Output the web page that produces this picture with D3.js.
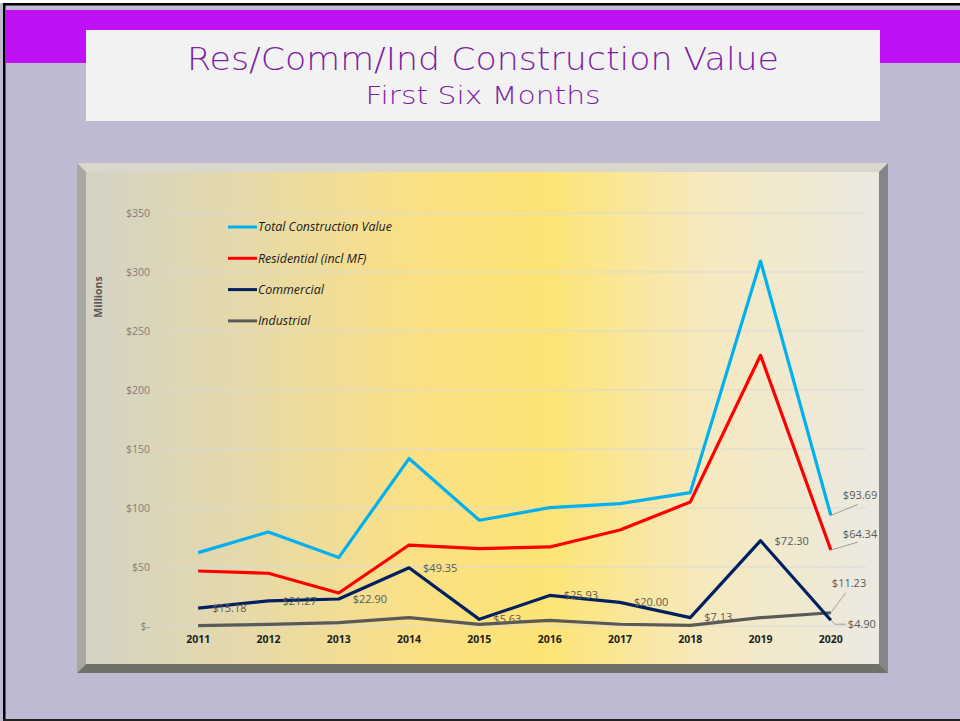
<!DOCTYPE html>
<html>
<head>
<meta charset="utf-8">
<script src="https://cdn.jsdelivr.net/npm/d3@7/dist/d3.min.js"></script>
<style>
  html, body { margin: 0; padding: 0; background: #fff; }
  svg { display: block; }
</style>
</head>
<body>
<div id="chart"></div>
<script>
// chart values
const years = ["2011", "2012", "2013", "2014", "2015", "2016", "2017", "2018", "2019", "2020"];
const totalValue = [62.2, 79.7, 58.0, 141.9, 89.6, 100.3, 103.7, 113.0, 309.3, 93.69];
const residential = [46.6, 44.7, 28.0, 68.6, 65.6, 67.0, 81.4, 105.0, 229.4, 64.34];
const commercial = [15.18, 21.27, 22.90, 49.35, 5.63, 25.93, 20.00, 7.13, 72.30, 4.90];
const industrial = [0.4, 1.4, 2.8, 7.1, 1.4, 4.8, 1.5, 0.6, 7.1, 11.23];
const yTicks = [0, 50, 100, 150, 200, 250, 300, 350];

const seriesNames = ["Total Construction Value", "Residential (incl MF)", "Commercial", "Industrial"];
const seriesColors = ["#00b0f0", "#ff0000", "#002060", "#595959"];

const W = 960, H = 721;
const svg = d3.select("#chart").append("svg")
    .attr("width", W)
    .attr("height", H);

// slide background
svg.append("rect").attr("width", W).attr("height", H).attr("fill", "#bebad2");
svg.append("rect").attr("x", 0).attr("y", 0).attr("width", W).attr("height", 3).attr("fill", "#fff");
svg.append("rect").attr("x", 3).attr("y", 3).attr("width", W - 3).attr("height", 2.5).attr("fill", "#000");
svg.append("rect").attr("x", 3).attr("y", 3).attr("width", 2.5).attr("height", H - 3).attr("fill", "#000");
svg.append("rect").attr("x", 3).attr("y", H - 2).attr("width", W - 3).attr("height", 2).attr("fill", "#222");
svg.append("rect").attr("x", 5.5).attr("y", 10).attr("width", W - 5.5).attr("height", 53).attr("fill", "#c010f6");

// title box
svg.append("rect").attr("x", 86).attr("y", 30).attr("width", 794).attr("height", 91).attr("fill", "#f2f2f2");
svg.append("text")
    .attr("x", 483).attr("y", 70)
    .attr("text-anchor", "middle")
    .attr("textLength", 592)
    .attr("lengthAdjust", "spacingAndGlyphs")
    .style("font-family", "'DejaVu Sans', sans-serif")
    .style("font-size", "32px")
    .style("font-weight", "200")
    .attr("fill", "#7d1fa3")
    .text("Res/Comm/Ind Construction Value");
svg.append("text")
    .attr("x", 483).attr("y", 104)
    .attr("text-anchor", "middle")
    .attr("textLength", 235)
    .attr("lengthAdjust", "spacingAndGlyphs")
    .style("font-family", "'DejaVu Sans', sans-serif")
    .style("font-size", "25px")
    .style("font-weight", "200")
    .attr("fill", "#7d1fa3")
    .text("First Six Months");

// bevelled chart panel
const px0 = 77, py0 = 163, px1 = 888, py1 = 673, b = 9;
const defs = svg.append("defs");
const grad = defs.append("linearGradient").attr("id", "face").attr("x1", "0").attr("x2", "1").attr("y1", "0").attr("y2", "0");
[["0%", "#d5d2c6"], ["18%", "#e3d9ad"], ["42%", "#fbe084"], ["58%", "#fde474"], ["78%", "#f6e9be"], ["100%", "#ebe9e1"]]
    .forEach(s => grad.append("stop").attr("offset", s[0]).attr("stop-color", s[1]));

svg.append("polygon").attr("fill", "#dad8cd")
    .attr("points", [[px0, py0], [px1, py0], [px1 - b, py0 + b], [px0 + b, py0 + b]].join(" "));
svg.append("polygon").attr("fill", "#a8a7a0")
    .attr("points", [[px0, py0], [px0 + b, py0 + b], [px0 + b, py1 - b], [px0, py1]].join(" "));
svg.append("polygon").attr("fill", "#858585")
    .attr("points", [[px1, py0], [px1, py1], [px1 - b, py1 - b], [px1 - b, py0 + b]].join(" "));
svg.append("polygon").attr("fill", "#707069")
    .attr("points", [[px0, py1], [px0 + b, py1 - b], [px1 - b, py1 - b], [px1, py1]].join(" "));
svg.append("rect")
    .attr("x", px0 + b).attr("y", py0 + b)
    .attr("width", px1 - px0 - 2 * b).attr("height", py1 - py0 - 2 * b)
    .attr("fill", "url(#face)");

// scales
const x = d3.scaleBand().domain(years).range([163, 866]);
const y = d3.scaleLinear().domain([0, 350]).range([626, 213]);
const cx = d => x(d) + x.bandwidth() / 2;

// gridlines
svg.append("g").selectAll("line")
    .data(yTicks)
    .join("line")
    .attr("x1", 163).attr("x2", 866)
    .attr("y1", d => y(d)).attr("y2", d => y(d))
    .attr("stroke", "#d9d9d9")
    .attr("stroke-width", 1);

// y axis
const yAxis = svg.append("g")
    .attr("transform", "translate(152,0)")
    .call(d3.axisLeft(y).tickValues(yTicks).tickSize(0).tickPadding(2)
        .tickFormat(d => d === 0 ? "$-" : "$" + d));
yAxis.select(".domain").remove();
yAxis.selectAll("text")
    .style("font-family", "'Open Sans', sans-serif")
    .style("font-size", "10.5px")
    .attr("fill", "#7f7f7f");

// x axis
const xAxis = svg.append("g")
    .attr("transform", "translate(0,636)")
    .call(d3.axisBottom(x).tickSize(0).tickPadding(0));
xAxis.select(".domain").remove();
xAxis.selectAll("text")
    .style("font-family", "'Open Sans', sans-serif")
    .style("font-size", "10.5px")
    .style("font-weight", "bold")
    .attr("fill", "#1f1f1f");

// axis title
svg.append("text")
    .attr("transform", "translate(102,297) rotate(-90)")
    .attr("text-anchor", "middle")
    .style("font-family", "'Open Sans', sans-serif")
    .style("font-size", "10.5px")
    .style("font-weight", "bold")
    .attr("fill", "#595959")
    .text("Millions");

// lines
const allSeries = [totalValue, residential, commercial, industrial];
const line = d3.line().x((d, i) => cx(years[i])).y(d => y(d));
[3, 2, 1, 0].forEach(k => {
    svg.append("path")
        .datum(allSeries[k])
        .attr("d", line)
        .attr("fill", "none")
        .attr("stroke", seriesColors[k])
        .attr("stroke-width", 3.2)
        .attr("stroke-linejoin", "round");
});

// legend
const legend = svg.append("g").selectAll("g")
    .data(seriesNames)
    .join("g")
    .attr("transform", (d, i) => `translate(228, ${227 + i * 31.3})`);
legend.append("line")
    .attr("x1", 0).attr("x2", 29)
    .attr("stroke", (d, i) => seriesColors[i])
    .attr("stroke-width", 3);
legend.append("text")
    .attr("x", 30).attr("dy", "0.35em")
    .style("font-family", "'Open Sans', sans-serif")
    .style("font-size", "12.4px")
    .style("font-style", "italic")
    .attr("fill", "#1a1a1a")
    .text(d => d);

// data labels
const labelFont = sel => sel
    .style("font-family", "'Open Sans', sans-serif")
    .style("font-size", "11px")
    .attr("fill", "#595959");

svg.append("g").selectAll("text")
    .data(commercial.slice(0, 9))
    .join("text")
    .attr("x", (d, i) => cx(years[i]) + 14)
    .attr("y", d => y(d))
    .attr("dy", "0.35em")
    .call(labelFont)
    .text(d => "$" + d.toFixed(2));

// 2020 labels with leader lines
const last = years.length - 1;
const lx = cx(years[last]);
const endLabels = [
    { v: totalValue[last], lead: [[0, 0], [27, -11]], tx: 12, ty: -20 },
    { v: residential[last], lead: [[0, 0], [27, -8]], tx: 12, ty: -16 },
    { v: industrial[last], lead: [[0, 0], [15, -20]], tx: 1, ty: -30 },
    { v: commercial[last], lead: [[0, 0], [4, 4], [15, 4]], tx: 17, ty: 4 }
];
endLabels.forEach(l => {
    const py = y(l.v);
    svg.append("polyline")
        .attr("points", l.lead.map(p => [lx + p[0], py + p[1]]).join(" "))
        .attr("fill", "none")
        .attr("stroke", "#8c8c8c")
        .attr("stroke-width", 0.8);
    svg.append("text")
        .attr("x", lx + l.tx)
        .attr("y", py + l.ty)
        .attr("dy", "0.35em")
        .call(labelFont)
        .text("$" + l.v.toFixed(2));
});
</script>
</body>
</html>
